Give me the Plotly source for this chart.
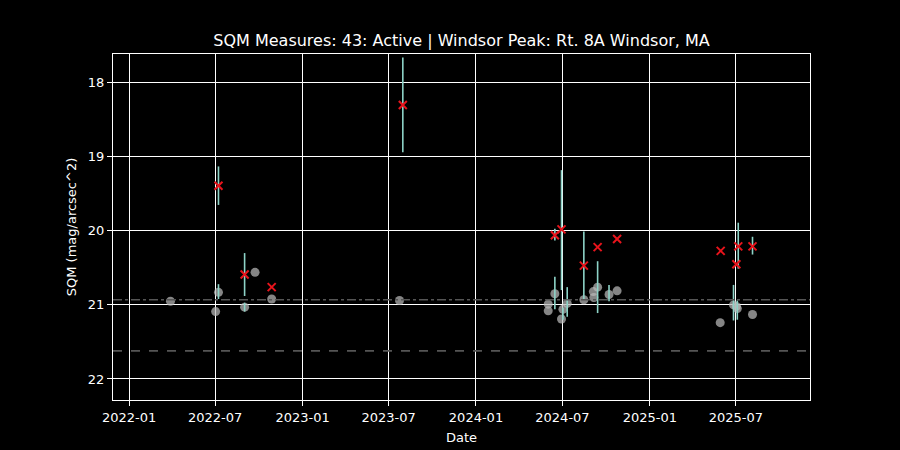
####################################################################################################################
# plot.py
#
# SQM sky brightness measurements for one site, dark theme

####################################################################################################################
# IMPORTS
import plotly.graph_objects as go

####################################################################################################################
# DATA

# individual readings (grey dots)
reading_dates = ['2022-03-29', '2022-07-02', '2022-07-08', '2022-09-01', '2022-09-23', '2022-10-28',
                 '2023-07-24',
                 '2024-06-01', '2024-06-01', '2024-06-15', '2024-06-29', '2024-07-02', '2024-07-11',
                 '2024-08-15', '2024-09-04', '2024-09-05', '2024-09-13', '2024-10-07', '2024-10-24',
                 '2025-05-29', '2025-06-26', '2025-07-02', '2025-07-04', '2025-08-05']
reading_sqm = [20.95, 21.09, 20.83, 21.03, 20.56, 20.92,
               20.94,
               20.99, 21.08, 20.85, 21.19, 21.06, 20.98,
               20.93, 20.82, 20.90, 20.76, 20.86, 20.81,
               21.24, 21.00, 21.02, 21.05, 21.13]

# flagged readings (red x)
flag_dates = ['2022-07-08', '2022-09-01', '2022-10-28', '2023-07-31',
              '2024-06-15', '2024-06-29', '2024-08-15', '2024-09-13', '2024-10-24',
              '2025-05-30', '2025-07-02', '2025-07-06', '2025-08-05']
flag_sqm = [19.39, 20.59, 20.76, 18.30,
            20.06, 19.98, 20.47, 20.22, 20.11,
            20.27, 20.45, 20.21, 20.21]

# error bars (mean +/- std)
err_dates = ['2022-07-08', '2022-07-08', '2022-09-01', '2022-09-01', '2023-07-31',
             '2024-06-15', '2024-06-15', '2024-06-29', '2024-07-02', '2024-07-11', '2024-08-15',
             '2024-09-13', '2024-10-07',
             '2025-06-26', '2025-07-04', '2025-07-06', '2025-08-05']
err_sqm = [19.39, 20.82, 20.59, 21.03, 18.30,
           20.05, 20.84, 19.99, 21.12, 20.96, 20.47,
           20.76, 20.84,
           20.97, 21.07, 20.20, 20.20]
err_std = [0.26, 0.10, 0.29, 0.06, 0.64,
           0.08, 0.22, 0.81, 0.08, 0.20, 0.46,
           0.35, 0.11,
           0.24, 0.13, 0.31, 0.12]

# reference levels
ref_dashdot = 20.93
ref_dashed = 21.62

title_text = 'SQM Measures: 43: Active | Windsor Peak: Rt. 8A Windsor, MA'

####################################################################################################################
# FIGURE
fig = go.Figure()

fig.add_trace(go.Scatter(x=reading_dates, y=reading_sqm, mode='markers',
                         marker=dict(symbol='circle', size=9, color='rgba(185,185,185,0.72)',
                                     line=dict(width=0)),
                         showlegend=False))

fig.add_trace(go.Scatter(x=err_dates, y=err_sqm, mode='markers',
                         marker=dict(size=1, color='rgba(0,0,0,0)'),
                         error_y=dict(type='data', array=err_std, symmetric=True,
                                      color='#8dd3c7', thickness=1.6, width=0),
                         showlegend=False))

fig.add_trace(go.Scatter(x=flag_dates, y=flag_sqm, mode='markers',
                         marker=dict(symbol='x-thin', size=8, color='#e8141c',
                                     line=dict(width=2, color='#e8141c')),
                         showlegend=False))

fig.add_hline(y=ref_dashdot, line=dict(color='#555555', width=1.6, dash='dashdot'), layer='above')
fig.add_hline(y=ref_dashed, line=dict(color='#555555', width=1.6, dash='dash'), layer='above')

axis_font = dict(family='DejaVu Sans', size=13, color='white')

fig.update_layout(
    width=900, height=450,
    paper_bgcolor='black', plot_bgcolor='black',
    margin=dict(l=113, r=90, t=54, b=50),
    font=axis_font,
    title=dict(text=title_text, x=0.5, xref='paper', y=0.911, yref='container', yanchor='middle',
               font=dict(family='DejaVu Sans', size=16, color='white')),
)

fig.update_xaxes(type='date', range=['2021-11-28', '2025-12-04'], automargin=False,
                 tick0='2022-01-01', dtick='M6', tickformat='%Y-%m',
                 showgrid=True, gridcolor='white', gridwidth=1,
                 showline=True, linecolor='white', linewidth=1, mirror=True,
                 ticks='outside', ticklen=5, tickcolor='white', zeroline=False,
                 title=dict(text='Date', font=axis_font, standoff=9))

fig.update_yaxes(range=[22.284, 17.612], tick0=18, dtick=1, automargin=False,
                 showgrid=True, gridcolor='white', gridwidth=1,
                 showline=True, linecolor='white', linewidth=1, mirror=True,
                 ticks='outside', ticklen=5, tickcolor='white', zeroline=False,
                 title=dict(text='SQM (mag/arcsec^2)', font=axis_font, standoff=8))

# drop the default page margin so the figure sits flush in the window
fig.write_html("out.html", config={'displayModeBar': False},
               post_script="document.body.style.margin='0';document.body.style.background='black';")
